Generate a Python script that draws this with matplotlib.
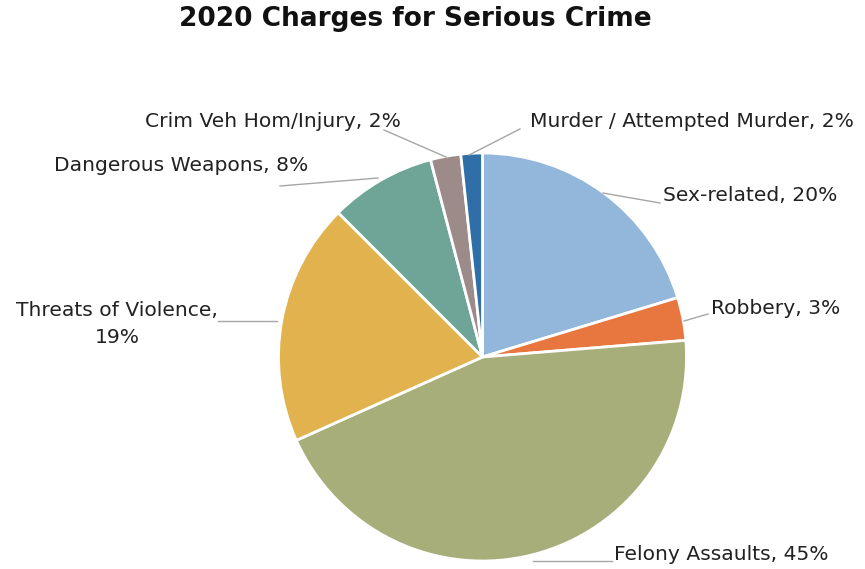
import matplotlib.pyplot as plt

# share of 2020 serious crime charges, in percent
categories = ['Sex-related', 'Robbery', 'Felony Assaults', 'Threats of Violence',
              'Dangerous Weapons', 'Crim Veh Hom/Injury', 'Murder / Attempted Murder']
shares = [20.3, 3.4, 44.6, 19.2, 8.4, 2.4, 1.7]
colors = ['#93b6db', '#e8773f', '#a7ae79', '#e2b24f', '#6fa596', '#9c8b88', '#2f6ea7']

W, H = 865, 569
plt.rcParams['font.family'] = ['DejaVu Sans']

fig = plt.figure(figsize=(W / 100, H / 100), dpi=100)
ax = fig.add_axes([0, 0, 1, 1])

cx, cy, r = 482.5, H - 357, 204
wedges, _ = ax.pie(shares, colors=colors, startangle=90, counterclock=False,
                   center=(cx, cy), radius=r, frame=True,
                   wedgeprops=dict(edgecolor='white', linewidth=2))
ax.set_xlim(0, W)
ax.set_ylim(0, H)
ax.axis('off')

pct = [f'{round(s)}%' for s in shares]

# label text position (pixels from top-left), alignment, leader line start/end
labels = [
    (f'{categories[0]}, {pct[0]}', (663, 195), 'left', [(603, 193), (660, 203)]),
    (f'{categories[1]}, {pct[1]}', (711, 308), 'left', [(684, 321), (708, 314)]),
    (f'{categories[2]}, {pct[2]}', (614, 555), 'left', [(533, 561), (612, 561)]),
    (f'{categories[3]},\n{pct[3]}', (218, 324), 'right', [(218, 321), (277, 321)]),
    (f'{categories[4]}, {pct[4]}', (308, 165), 'right', [(280, 186), (378, 178)]),
    (f'{categories[5]}, {pct[5]}', (401, 121), 'right', [(384, 130), (446, 157)]),
    (f'{categories[6]}, {pct[6]}', (530, 121), 'left', [(469, 155), (520, 129)]),
]
for text, (tx, ty), ha, line in labels:
    (x0, y0), (x1, y1) = line
    ax.plot([x0, x1], [H - y0, H - y1], color='#a6a6a6', linewidth=1)
    ax.text(tx, H - ty, text, ha=ha, va='center', fontsize=14.6,
            color='#222222', multialignment='center', linespacing=1.5)

ax.text(415, H - 19, '2020 Charges for Serious Crime', ha='center', va='center',
        fontsize=19, fontweight='bold', color='#111111')

fig.savefig('out.png', dpi=100)
